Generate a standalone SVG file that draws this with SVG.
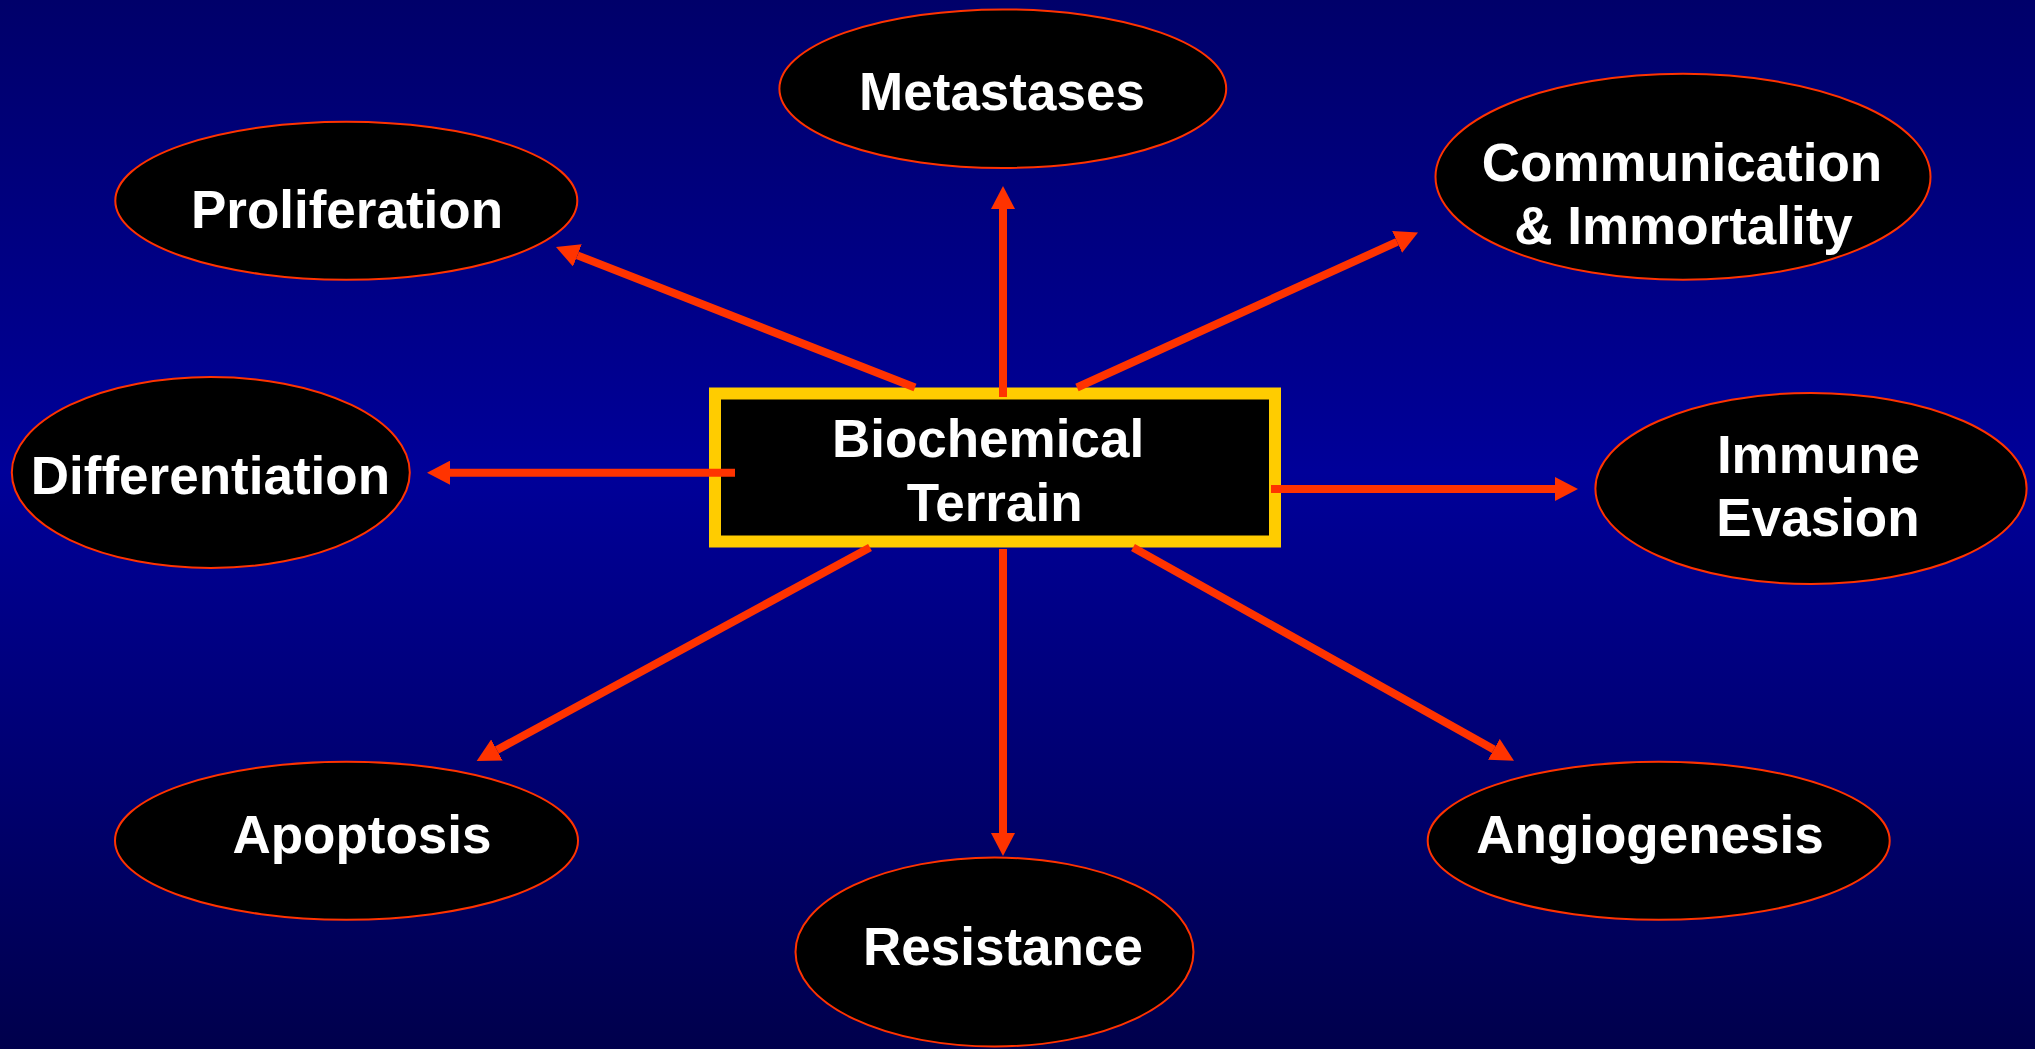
<svg xmlns="http://www.w3.org/2000/svg" width="2035" height="1049" viewBox="0 0 2035 1049">
<defs>
<linearGradient id="bg" x1="0" y1="0" x2="0" y2="1">
<stop offset="0" stop-color="#00006A"/>
<stop offset="0.45" stop-color="#000099"/>
<stop offset="1" stop-color="#00004C"/>
</linearGradient>
<marker id="ah" viewBox="0 0 23 24" refX="0" refY="12" markerWidth="23" markerHeight="24" markerUnits="userSpaceOnUse" orient="auto">
<path d="M0,0 L23,12 L0,24 z" fill="#FF3300"/>
</marker>
<style>
.node ellipse{fill:#000;stroke:#FF3300;stroke-width:2}
.lbl{font-family:"Liberation Sans",Arial,sans-serif;font-weight:bold;font-size:53px;fill:#fff;text-anchor:middle}
.conn line{stroke:#FF3300;stroke-width:8;marker-end:url(#ah)}
</style>
</defs>
<rect x="0" y="0" width="2035" height="1049" fill="url(#bg)"/>

<g id="metastases" class="node">
<ellipse cx="1002.8" cy="88.7" rx="223.4" ry="79.3"/>
<text class="lbl" x="1002" y="110">Metastases</text>
</g>
<g id="proliferation" class="node">
<ellipse cx="346.3" cy="200.7" rx="231" ry="79"/>
<text class="lbl" x="347" y="228">Proliferation</text>
</g>
<g id="communication" class="node">
<ellipse cx="1683" cy="176.8" rx="247.5" ry="103"/>
<text class="lbl" x="1682" y="180.5">Communication</text>
<text class="lbl" x="1683.5" y="244">&amp; Immortality</text>
</g>
<g id="differentiation" class="node">
<ellipse cx="210.8" cy="472.5" rx="199" ry="95.5"/>
<text class="lbl" x="210.4" y="494">Differentiation</text>
</g>
<g id="immune" class="node">
<ellipse cx="1811" cy="488.5" rx="215.6" ry="95.5"/>
<text class="lbl" x="1818.5" y="472.7">Immune</text>
<text class="lbl" x="1818" y="536">Evasion</text>
</g>
<g id="apoptosis" class="node">
<ellipse cx="346.5" cy="840.7" rx="231.5" ry="79"/>
<text class="lbl" x="362" y="853">Apoptosis</text>
</g>
<g id="resistance" class="node">
<ellipse cx="994.5" cy="952" rx="199" ry="94.5"/>
<text class="lbl" x="1003" y="965">Resistance</text>
</g>
<g id="angiogenesis" class="node">
<ellipse cx="1658.7" cy="840.7" rx="231" ry="79"/>
<text class="lbl" x="1650" y="853">Angiogenesis</text>
</g>

<g id="biochemical-terrain">
<rect x="715" y="393.5" width="560" height="148" fill="#000" stroke="#FFCC00" stroke-width="12"/>
<text class="lbl" x="988" y="457">Biochemical</text>
<text class="lbl" x="994.7" y="521">Terrain</text>
</g>

<g id="connectors" class="conn">
<line x1="1003" y1="397" x2="1003" y2="209"/>
<line x1="915" y1="387.5" x2="577.4" y2="255.4"/>
<line x1="1077" y1="387.5" x2="1397.1" y2="241.9"/>
<line x1="735" y1="472.7" x2="450" y2="472.7"/>
<line x1="1271" y1="489" x2="1555" y2="489"/>
<line x1="870" y1="547.5" x2="496.9" y2="750"/>
<line x1="1003" y1="549" x2="1003" y2="833"/>
<line x1="1133" y1="547.5" x2="1493.9" y2="749.4"/>
</g>
</svg>
